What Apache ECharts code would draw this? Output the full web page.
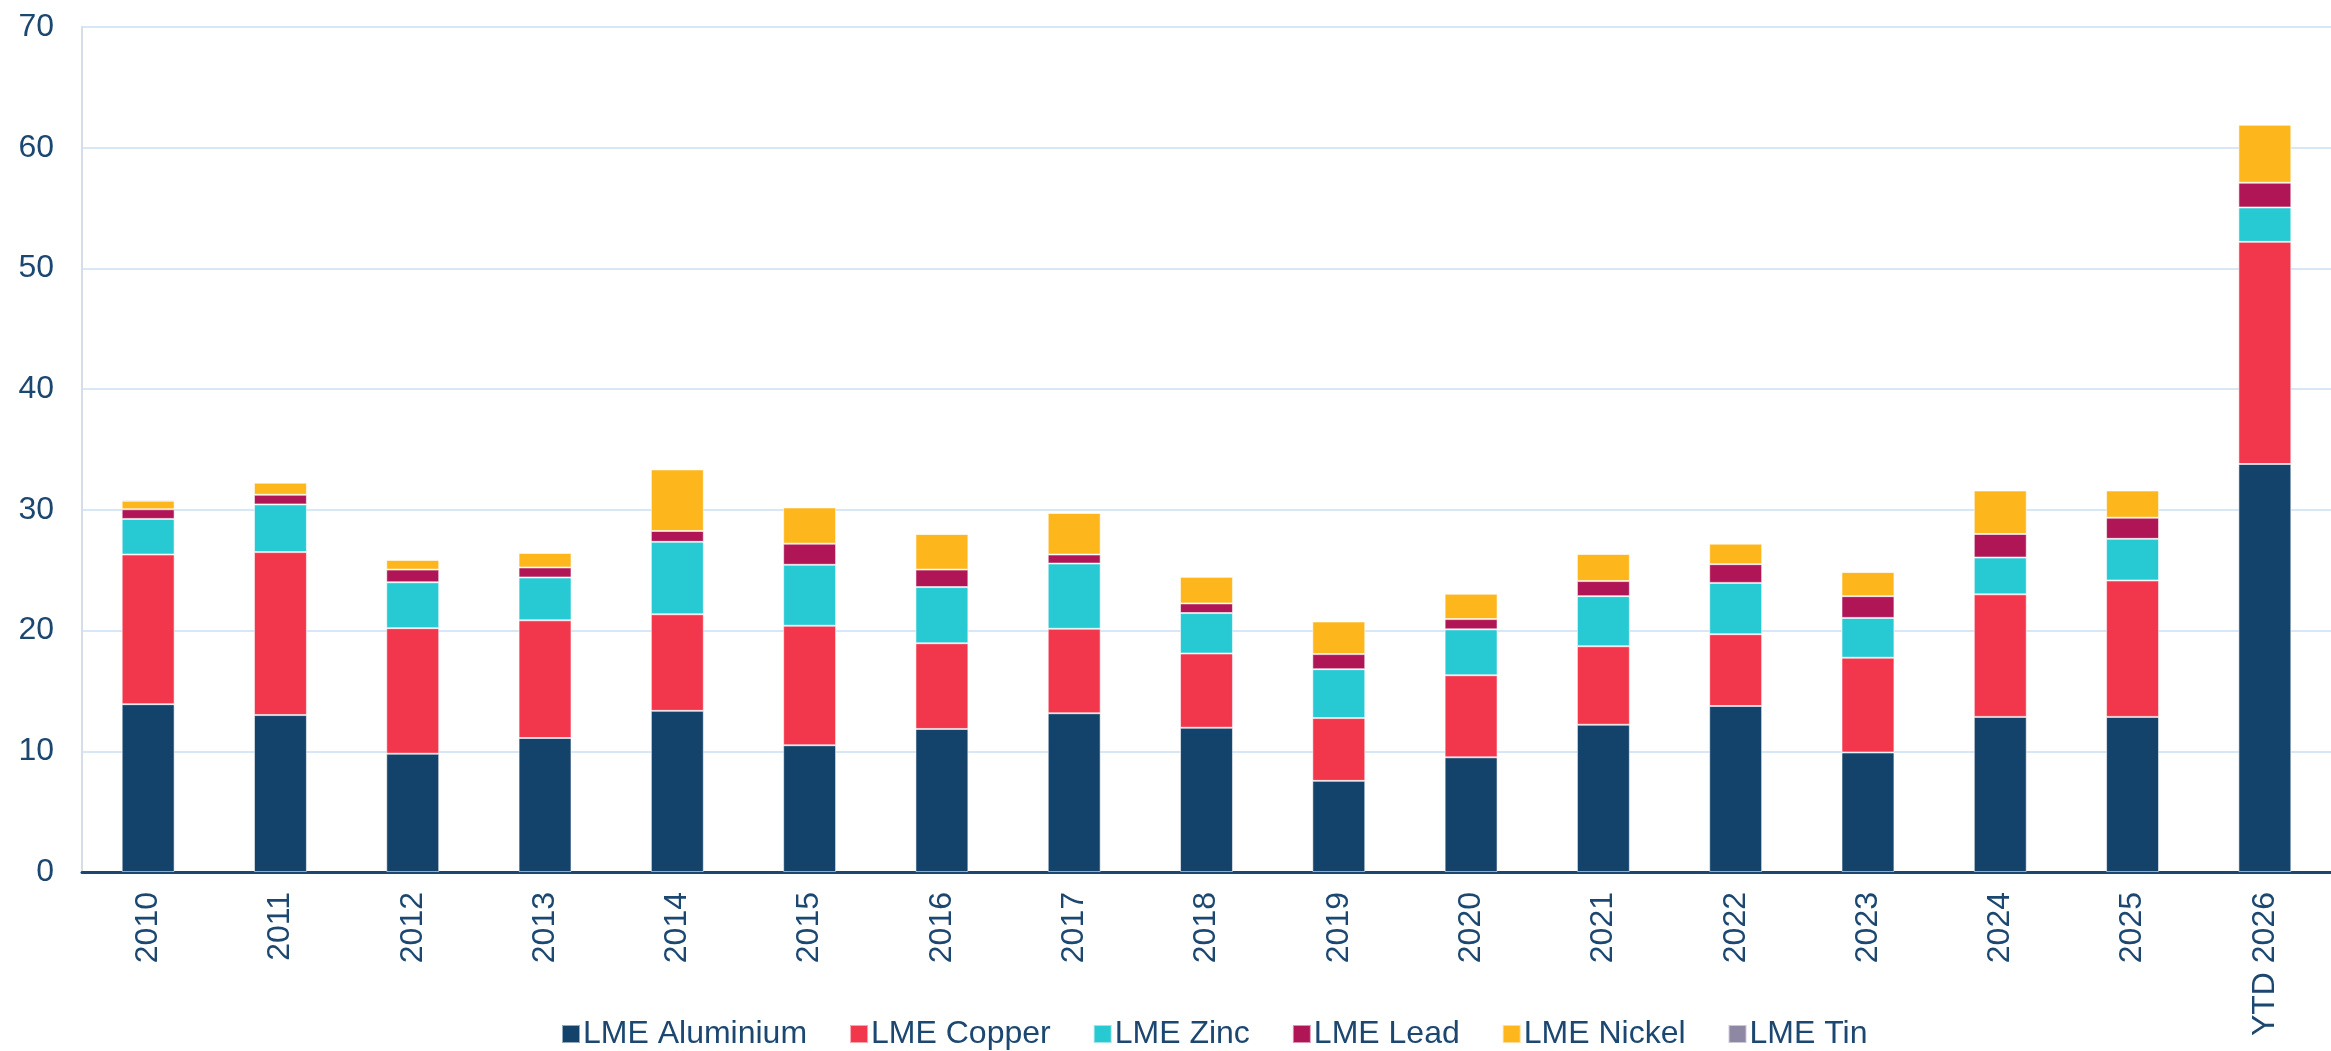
<!DOCTYPE html>
<html>
<head>
<meta charset="utf-8">
<script src="https://cdn.jsdelivr.net/npm/echarts@6/dist/echarts.min.js"></script>
<style>
html,body{margin:0;padding:0;background:#fff;}
#chart{width:2331px;height:1051px;}
</style>
</head>
<body>
<div id="chart"></div>
<script>
const categories = ['2010','2011','2012','2013','2014','2015','2016','2017','2018','2019','2020','2021','2022','2023','2024','2025','YTD 2026'];
const aluminium = [13.9, 13.0, 9.8, 11.1, 13.35, 10.5, 11.85, 13.15, 11.95, 7.55, 9.5, 12.2, 13.75, 9.9, 12.85, 12.85, 33.8];
const copper    = [12.4, 13.5, 10.4, 9.75, 8.0, 9.9, 7.1, 7.0, 6.15, 5.2, 6.8, 6.5, 5.95, 7.85, 10.15, 11.3, 18.4];
const zinc      = [2.95, 3.95, 3.8, 3.55, 6.0, 5.05, 4.65, 5.4, 3.35, 4.05, 3.8, 4.15, 4.25, 3.3, 3.05, 3.45, 2.85];
const lead      = [0.8, 0.8, 1.05, 0.83, 0.9, 1.75, 1.45, 0.75, 0.8, 1.25, 0.85, 1.25, 1.55, 1.8, 1.95, 1.75, 2.05];
const nickel    = [0.7, 1.0, 0.8, 1.2, 5.1, 3.0, 2.95, 3.45, 2.2, 2.7, 2.1, 2.25, 1.7, 2.0, 3.6, 2.25, 4.8];
const tin       = [0.1, 0.08, 0.06, 0.06, 0.05, 0.03, 0.03, 0.03, 0.03, 0.03, 0.03, 0.03, 0.03, 0.03, 0.03, 0.03, 0.03];
const yTicks = [0, 10, 20, 30, 40, 50, 60, 70];

const seriesDefs = [
  ['LME Aluminium', aluminium, '#13436B'],
  ['LME Copper', copper, '#F2364C'],
  ['LME Zinc', zinc, '#27C9D3'],
  ['LME Lead', lead, '#B01656'],
  ['LME Nickel', nickel, '#FDB71D'],
  ['LME Tin', tin, '#8E88A5']
];
const textColor = '#1B4770';
const font = 'Liberation Sans, Arial, sans-serif';

const chart = echarts.init(document.getElementById('chart'), null, {renderer: 'canvas'});
chart.setOption({
  animation: false,
  backgroundColor: '#ffffff',
  color: seriesDefs.map(s => s[2]),
  grid: {left: 82, top: 27, width: 2268, bottom: 179, containLabel: false},
  legend: {
    left: 556, top: 1013,
    itemWidth: 18, itemHeight: 18, itemGap: 42,
    icon: 'rect',
    textStyle: {color: textColor, fontSize: 32, fontFamily: font, padding: [0, 0, 0, -2]},
    data: seriesDefs.map(s => s[0])
  },
  xAxis: {
    type: 'category',
    data: categories,
    axisLine: {lineStyle: {color: '#1B4770', width: 3}},
    axisTick: {show: false},
    axisLabel: {rotate: 90, margin: 20, color: textColor, fontSize: 32, fontFamily: font, interval: 0}
  },
  yAxis: {
    type: 'value',
    min: yTicks[0], max: yTicks[yTicks.length - 1], interval: 10,
    axisLine: {show: true, lineStyle: {color: '#D3DEEA', width: 2}},
    axisTick: {show: false},
    splitLine: {lineStyle: {color: '#D7E7F5', width: 2}},
    axisLabel: {margin: 28, color: textColor, fontSize: 32, fontFamily: font}
  },
  series: seriesDefs.map(s => ({
    name: s[0],
    type: 'bar',
    stack: 'total',
    data: s[1],
    barCategoryGap: '60%',
    itemStyle: {color: s[2], borderColor: 'rgba(255,255,255,0.55)', borderWidth: 1}
  }))
});
</script>
</body>
</html>
